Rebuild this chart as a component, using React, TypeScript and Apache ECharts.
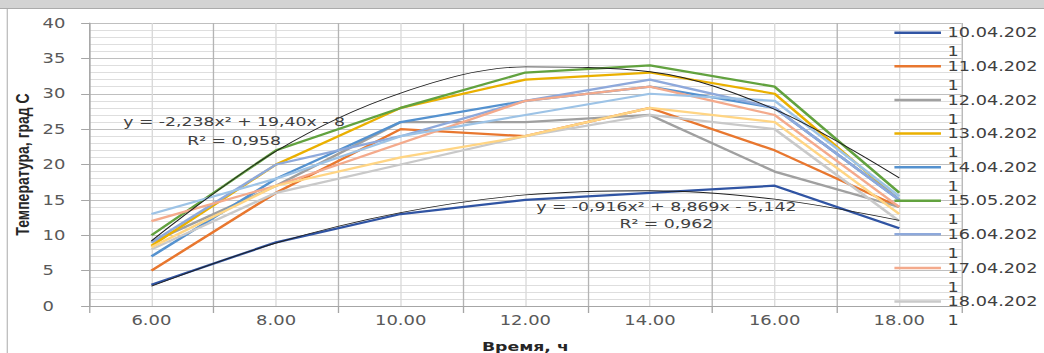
import React, { useEffect, useRef } from "react";
import * as echarts from "echarts";

// Horizontal stretch of the reference picture
const S = 1.33;
const W = 785;
const H = 353;

const categories = ["6.00", "8.00", "10.00", "12.00", "14.00", "16.00", "18.00"];

const seriesNames = [
  "10.04.2021",
  "11.04.2021",
  "12.04.2021",
  "13.04.2021",
  "14.04.2021",
  "15.05.2021",
  "16.04.2021",
  "17.04.2021",
  "18.04.2021",
  "19.04.2021",
  "20.04.2021",
];
const legendCount = 9;

const v1004 = [3, 9, 13, 15, 16, 17, 11];
const v1104 = [5, 16, 25, 24, 28, 22, 14];
const v1204 = [9, 17, 26, 26, 27, 19, 14];
const v1304 = [8.5, 20, 28, 32, 33, 30, 15];
const v1404 = [7, 18, 26, 29, 31, 28, 15];
const v1505 = [10, 22, 28, 33, 34, 31, 16];
const v1604 = [9, 20, 24, 29, 32, 28, 15];
const v1704 = [12, 17, 23, 29, 31, 27, 14];
const v1804 = [8, 16, 20, 24, 27, 25, 12];
const v1904 = [13, 18, 24, 27, 30, 29, 15.5];
const v2004 = [8.3, 17, 21, 24, 28, 26, 13];

const seriesValues = [v1004, v1104, v1204, v1304, v1404, v1505, v1604, v1704, v1804, v1904, v2004];

const seriesColors = [
  "#3054A3",
  "#E8772F",
  "#A0A0A0",
  "#EAB000",
  "#5592CF",
  "#62A23F",
  "#8EA9DB",
  "#F4AA8C",
  "#C9C9C9",
  "#9DC3E6",
  "#FFD584",
];

// Polynomial trend lines
const trendNames = ["Полиномиальная (15.05.2021)", "Полиномиальная (10.04.2021)"];
const trendUpper = [9.2, 21.9, 30.1, 33.8, 33.1, 27.8, 18.1];
const trendLower = [2.8, 8.9, 13.2, 15.7, 16.3, 15.1, 12.1];
const trendValues = [trendUpper, trendLower];

const eqUpper = ["y = -2,238x² + 19,40x - 8", "R² = 0,958"];
const eqLower = ["y = -0,916x² + 8,869x - 5,142", "R² = 0,962"];

const yTitle = "Температура, град С";
const xTitle = "Время, ч";

// legend marker: a bar at the top of a taller (invisible) box, so it sits on the first text line
const legendIcon = "path://M0 0H35V2.5H0ZM0 21.5L35 21.5";

export default function App() {
  const ref = useRef<HTMLDivElement>(null);
  useEffect(() => {
    const chart = echarts.init(ref.current!, null, { renderer: "svg" });
    const font = "DejaVu Sans";
    const lineSeries = seriesNames.map((name, i) => ({
      name,
      type: "line",
      data: seriesValues[i],
      symbol: "none",
      showSymbol: false,
      silent: true,
      lineStyle: { color: seriesColors[i], width: 2.25 },
      itemStyle: { color: seriesColors[i] },
      z: 3,
    }));
    const trendSeries = trendNames.map((name, i) => ({
      name,
      type: "line",
      data: trendValues[i],
      smooth: 0.34,
      symbol: "none",
      showSymbol: false,
      silent: true,
      lineStyle: { color: "#1f1f1f", width: 0.9 },
      itemStyle: { color: "#1f1f1f" },
      z: 4,
    }));
    chart.setOption({
      animation: false,
      backgroundColor: "#ffffff",
      grid: { left: 67, right: 62, top: 23, bottom: 47, outerBoundsMode: "none", containLabel: false },
      legend: {
        data: seriesNames.slice(0, legendCount),
        orient: "vertical",
        left: 672.5,
        top: 23.25,
        padding: 0,
        itemWidth: 35,
        itemHeight: 21.5,
        itemGap: -4.4,
        icon: legendIcon,
        selectedMode: false,
        itemStyle: { borderWidth: 0 },
        textStyle: {
          fontFamily: font,
          fontSize: 13.3,
          color: "#404040",
          width: 69,
          overflow: "breakAll",
          lineHeight: 19,
        },
      },
      xAxis: [
        {
          type: "category",
          data: categories,
          boundaryGap: true,
          position: "bottom",
          axisLine: { show: true, lineStyle: { color: "#A6A6A6", width: 1 } },
          axisTick: { show: true, interval: 0, length: 7, lineStyle: { color: "#A6A6A6" } },
          axisLabel: { interval: 0, margin: 7, color: "#595959", fontFamily: font, fontSize: 13.5 },
          splitLine: { show: true, interval: 0, lineStyle: { color: "#B4B4B4", width: 1 } },
          name: xTitle,
          nameLocation: "middle",
          nameGap: 34,
          nameMoveOverlap: false,
          nameTextStyle: { fontFamily: font, fontWeight: "bold", fontSize: 13, color: "#262626" },
        },
        {
          type: "value",
          min: 0,
          max: 7,
          interval: 1,
          position: "bottom",
          axisLine: { show: false },
          axisTick: { show: false },
          axisLabel: { show: false },
          splitLine: { show: false },
          minorTick: { show: false, splitNumber: 2 },
          minorSplitLine: { show: true, lineStyle: { color: "#D9D9D9", width: 1 } },
        },
      ],
      yAxis: {
        type: "value",
        min: 0,
        max: 40,
        interval: 5,
        axisLine: { show: true, lineStyle: { color: "#A6A6A6" } },
        axisTick: { show: true, length: 6, lineStyle: { color: "#A6A6A6" } },
        axisLabel: { align: "left", margin: 35, color: "#595959", fontFamily: font, fontSize: 13.5 },
        splitLine: { show: true, lineStyle: { color: "#BFBFBF" } },
        minorTick: { show: false, splitNumber: 5 },
        minorSplitLine: { show: true, lineStyle: { color: "#DEDEDE" } },
        name: yTitle,
        nameLocation: "middle",
        nameGap: 43,
        nameMoveOverlap: false,
        nameRotate: 90,
        nameTextStyle: {
          fontFamily: "Liberation Sans Narrow, Liberation Sans, sans-serif",
          fontWeight: "bold",
          fontSize: 14,
          color: "#262626",
        },
      },
      graphic: [
        { type: "rect", shape: { x: 0, y: 0, width: W, height: 8 }, style: { fill: "#D3D3D3" }, silent: true },
        { type: "line", shape: { x1: 0, y1: 8.5, x2: W, y2: 8.5 }, style: { stroke: "#ABABAB", lineWidth: 1 }, silent: true },
        { type: "line", shape: { x1: 5.5, y1: 9, x2: 5.5, y2: H }, style: { stroke: "#BFBFBF", lineWidth: 1 }, silent: true },
        {
          type: "text",
          x: 176,
          y: 131.5,
          silent: true,
          z: 10,
          style: {
            text: eqUpper.join("\n"),
            fontFamily: font,
            fontSize: 13,
            lineHeight: 19,
            fill: "#404040",
            align: "center",
            verticalAlign: "middle",
          },
        },
        {
          type: "text",
          x: 501,
          y: 215.5,
          silent: true,
          z: 10,
          style: {
            text: eqLower.join("\n"),
            fontFamily: font,
            fontSize: 13,
            lineHeight: 17,
            fill: "#404040",
            align: "center",
            verticalAlign: "middle",
          },
        },
      ],
      series: [...lineSeries, ...trendSeries],
    });
    return () => chart.dispose();
  }, []);
  return (
    <div
      style={{
        position: "fixed",
        left: 0,
        top: 0,
        width: Math.round(W * S),
        height: H,
        overflow: "hidden",
        background: "#ffffff",
      }}
    >
      <div ref={ref} style={{ width: W, height: H, transform: `scaleX(${S})`, transformOrigin: "0 0" }} />
    </div>
  );
}
